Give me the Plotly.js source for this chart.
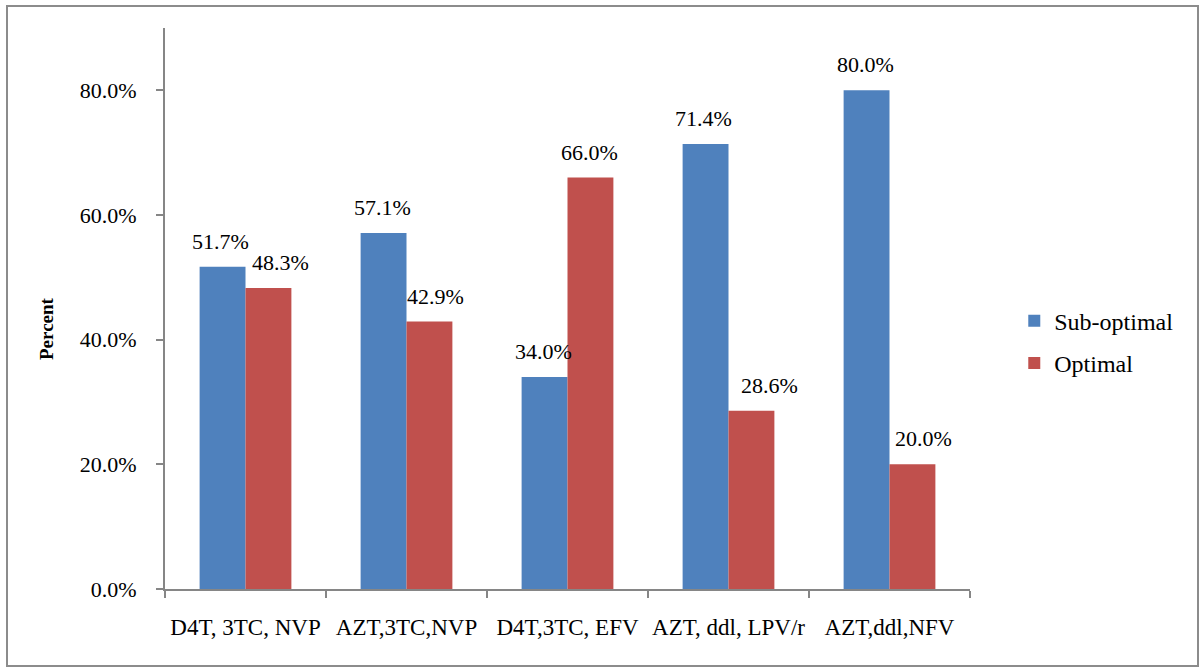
<!DOCTYPE html>
<html>
<head>
<meta charset="utf-8">
<script src="https://cdn.plot.ly/plotly-3.0.1.min.js"></script>
<style>
html,body{margin:0;padding:0;background:#fff;}
#chart{width:1203px;height:670px;position:relative;}
#frame{position:absolute;left:6px;top:5px;width:1189px;height:658px;border:2px solid #8c8c8c;pointer-events:none;box-sizing:content-box;}
</style>
</head>
<body>
<div id="chart"></div>
<div id="frame"></div>
<script>
const categories = ["D4T, 3TC, NVP", "AZT,3TC,NVP", "D4T,3TC, EFV", "AZT, ddl, LPV/r", "AZT,ddl,NFV"];
const subOptimal = [0.517, 0.571, 0.340, 0.714, 0.800];
const optimal = [0.483, 0.429, 0.660, 0.286, 0.200];
const seriesNames = ["Sub-optimal", "Optimal"];
const yTickVals = [0, 0.2, 0.4, 0.6, 0.8];
const yTickText = ["0.0%", "20.0%", "40.0%", "60.0%", "80.0%"];

// layout styling: small horizontal pixel nudges of the value labels (as in the original)
const subLabelNudge = [-2, -1, -1, -2, -1];
const optLabelNudge = [12, 6, -1, 18, 11];

const font = "'Liberation Serif', 'Times New Roman', serif";
const fmt = v => (v * 100).toFixed(1) + "%";

const traces = [
  {type: "bar", name: seriesNames[0], x: categories, y: subOptimal,
   marker: {color: "#4F81BD"}, legendgroup: "a"},
  {type: "bar", name: seriesNames[1], x: categories, y: optimal,
   marker: {color: "#C0504D"}, legendgroup: "b"}
];

const annotations = [];
[[subOptimal, -23, subLabelNudge], [optimal, 23, optLabelNudge]].forEach(([vals, dx, nudge]) => {
  vals.forEach((v, i) => {
    annotations.push({x: categories[i], y: v, xref: "x", yref: "y", text: fmt(v),
      showarrow: false, xanchor: "center", yanchor: "bottom", xshift: dx + nudge[i], yshift: 11,
      font: {family: font, size: 22, color: "#000"}});
  });
});
annotations.push({x: -0.148, y: 0.465, xref: "paper", yref: "paper", text: "<b>Percent</b>",
  textangle: -90, showarrow: false, xanchor: "center", yanchor: "middle",
  font: {family: font, size: 19, color: "#000"}});

const layout = {
  width: 1203, height: 670,
  margin: {l: 165, r: 233, t: 28, b: 81, pad: 0},
  paper_bgcolor: "#fff", plot_bgcolor: "#fff",
  font: {family: font, size: 22, color: "#000"},
  barmode: "group", bargap: 0.43, bargroupgap: 0,
  showlegend: true,
  legend: {x: 1.055, xanchor: "left", y: 0.44, yanchor: "middle",
           font: {family: font, size: 24, color: "#000"}, tracegroupgap: 8,
           bgcolor: "rgba(0,0,0,0)"},
  annotations: annotations,
  xaxis: {type: "category", showline: true, linecolor: "#868686", linewidth: 2,
          ticks: "outside", tickson: "boundaries", ticklen: 7, tickcolor: "#868686", tickwidth: 2,
          showgrid: false, zeroline: false, tickfont: {family: font, size: 23},
          tickangle: 0, ticklabelstandoff: 16},
  yaxis: {range: [0, 0.9], showline: true, linecolor: "#868686", linewidth: 2,
          ticks: "outside", ticklen: 7, tickcolor: "#868686", tickwidth: 2,
          tickvals: yTickVals, ticktext: yTickText, showgrid: false, zeroline: false,
          tickfont: {family: font, size: 22}, ticklabelstandoff: 15}
};

Plotly.newPlot("chart", traces, layout, {displayModeBar: false, staticPlot: true});
</script>
</body>
</html>
